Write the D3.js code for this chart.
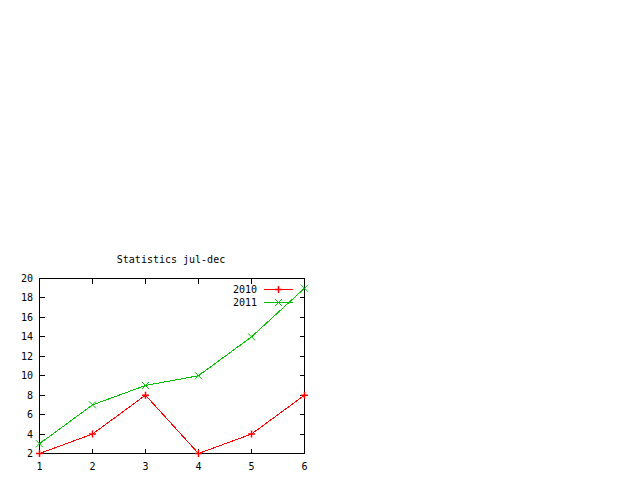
<!DOCTYPE html>
<html><head><meta charset="utf-8">
<script src="https://cdn.jsdelivr.net/npm/d3@7"></script>
<style>body{margin:0;background:#fff}svg{display:block}text{font-family:"DejaVu Sans Mono",monospace;font-size:10px;fill:#000}</style>
</head><body>
<svg id="c" width="640" height="480"></svg>
<script>
const months = [1, 2, 3, 4, 5, 6];
const series2010 = [2, 4, 8, 2, 4, 8];
const series2011 = [3, 7, 9, 10, 14, 19];
const yTicks = [2, 4, 6, 8, 10, 12, 14, 16, 18, 20];
const xTicks = [1, 2, 3, 4, 5, 6];
const seriesNames = ["2010", "2011"];
const title = "Statistics jul-dec";

const svg = d3.select("#c");
const L = 39.5, R = 304.5, T = 278.5, B = 453.5;
const x = d3.scaleLinear().domain([1, 6]).range([L, R]);
const y = d3.scaleLinear().domain([2, 20]).range([B, T]);
const tl = 5;

svg.append("rect").attr("x", L).attr("y", T).attr("width", R - L).attr("height", B - T)
  .attr("fill", "none").attr("stroke", "#000").attr("shape-rendering", "crispEdges");

const g = svg.append("g").attr("shape-rendering", "crispEdges").attr("stroke", "#000");
yTicks.forEach(v => {
  g.append("line").attr("x1", L).attr("x2", L + tl).attr("y1", y(v)).attr("y2", y(v));
  g.append("line").attr("x1", R).attr("x2", R - tl).attr("y1", y(v)).attr("y2", y(v));
  svg.append("text").attr("x", 33).attr("y", y(v)).attr("dy", "0.35em").attr("text-anchor", "end").text(v);
});
xTicks.forEach(v => {
  g.append("line").attr("x1", x(v)).attr("x2", x(v)).attr("y1", B).attr("y2", B - tl);
  g.append("line").attr("x1", x(v)).attr("x2", x(v)).attr("y1", T).attr("y2", T + tl);
  svg.append("text").attr("x", x(v)).attr("y", 470).attr("text-anchor", "middle").text(v);
});

svg.append("text").attr("x", 171).attr("y", 263).attr("text-anchor", "middle").text(title);

const colors = ["#ff0000", "#00c000"];
const data = [series2010, series2011];
const line = d3.line().x((d, i) => x(months[i])).y(d => y(d));
const s = 3.5;
function marker(sel, cx, cy, type, col) {
  const p = type === 0
    ? `M${cx - s},${cy}H${cx + s}M${cx},${cy - s}V${cy + s}`
    : `M${cx - s},${cy - s}L${cx + s},${cy + s}M${cx - s},${cy + s}L${cx + s},${cy - s}`;
  sel.append("path").attr("d", p).attr("stroke", col).attr("fill", "none").attr("stroke-width", type === 0 ? 1.5 : 1);
}
data.forEach((ser, k) => {
  svg.append("path").datum(ser).attr("d", line).attr("fill", "none").attr("stroke", colors[k]).attr("stroke-width", 1).attr("shape-rendering", "crispEdges");
  ser.forEach((d, i) => marker(svg, x(months[i]), y(d), k, colors[k]));
  const ly = 289 + k * 13;
  svg.append("text").attr("x", 257).attr("y", ly).attr("dy", "0.35em").attr("text-anchor", "end").text(seriesNames[k]);
  svg.append("line").attr("x1", 264).attr("x2", 293).attr("y1", ly + 0.5).attr("y2", ly + 0.5).attr("stroke", colors[k]).attr("shape-rendering", "crispEdges");
  marker(svg, 278.5, ly + 0.5, k, colors[k]);
});
</script>
</body></html>
